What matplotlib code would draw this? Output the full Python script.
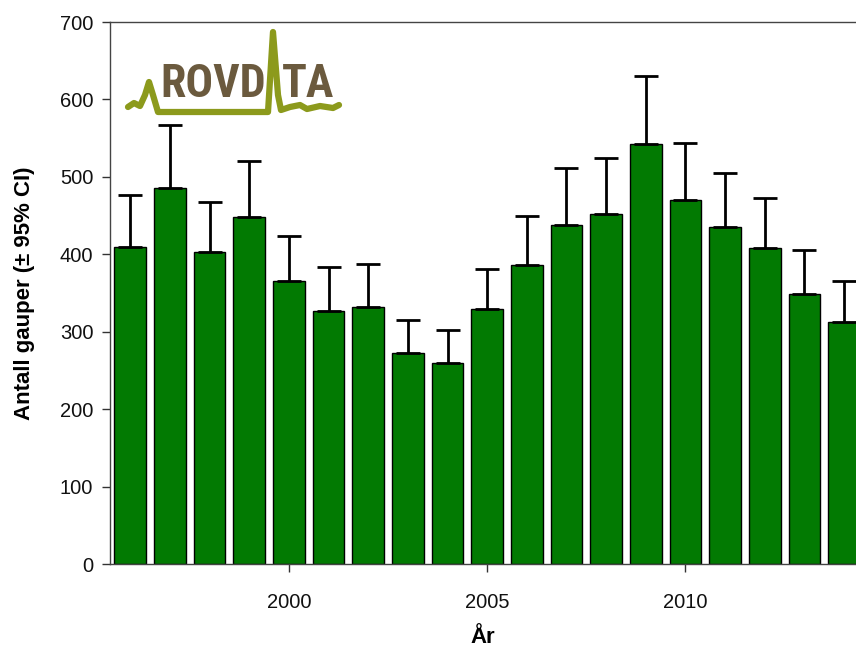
import matplotlib
matplotlib.use('Agg')
import matplotlib.pyplot as plt
from matplotlib.lines import Line2D
import numpy as np

plt.rcParams['font.family'] = ['Liberation Sans', 'DejaVu Sans']

# data
years = [1996, 1997, 1998, 1999, 2000, 2001, 2002, 2003, 2004, 2005,
         2006, 2007, 2008, 2009, 2010, 2011, 2012, 2013, 2014]
lynx = [410, 486, 403, 448, 366, 327, 332, 272, 259, 329,
        386, 438, 452, 542, 470, 435, 408, 349, 313]
ci_upper = [477, 567, 468, 520, 424, 383, 387, 315, 302, 381,
            449, 511, 525, 630, 544, 505, 473, 406, 366]
xticks = [2000, 2005, 2010]
yticks = [0, 100, 200, 300, 400, 500, 600, 700]

BAR_GREEN = '#027a02'
BROWN = '#6b5a3e'
OLIVE = '#8c9a1c'
W, H = 856, 649

fig = plt.figure(figsize=(W / 100, H / 100), dpi=100)
fig.patch.set_facecolor('white')
ax = fig.add_axes([110 / W, 1 - 564 / H, 1 - 110 / W, (564 - 22) / H])

err_up = np.array(ci_upper) - np.array(lynx)
ax.bar(years, lynx, width=0.8, color=BAR_GREEN, edgecolor='black', linewidth=1.0,
       yerr=[np.zeros(len(years)), err_up], capsize=8.5,
       error_kw=dict(ecolor='black', elinewidth=2.0, capthick=2.0), zorder=2)

ax.set_xlim(1995.49, 2014.3)
ax.set_ylim(0, 700)
ax.set_xticks(xticks)
ax.set_yticks(yticks)
ax.tick_params(axis='both', direction='out', length=6, width=1, labelsize=14.5,
               colors='#333333', labelcolor='#111111', pad=6)
ax.tick_params(axis='x', pad=15)
for side in ['left', 'bottom', 'top']:
    ax.spines[side].set_color('#444444')
    ax.spines[side].set_linewidth(1)
ax.spines['right'].set_visible(False)

ax.set_ylabel('Antall gauper (± 95% CI)', fontsize=16, fontweight='bold', labelpad=18)
ax.set_xlabel('År', fontsize=16, fontweight='bold', labelpad=11)

# ROVDATA logo
def fx(px):
    return px / W

def fy(py):
    return 1 - py / H

line_px = [(128, 107), (134, 103), (140, 106), (145, 95), (149, 82), (153, 95),
           (158, 112), (268, 112), (273, 32), (278, 95), (281, 110),
           (290, 107), (300, 105), (307, 109), (320, 106), (333, 108), (339, 105)]
fig.add_artist(Line2D([fx(p[0]) for p in line_px], [fy(p[1]) for p in line_px],
                      transform=fig.transFigure, color=OLIVE, lw=4.5,
                      solid_capstyle='round', solid_joinstyle='round', zorder=5))
logo_font = ['Roboto Condensed', 'Liberation Sans Narrow', 'DejaVu Sans Condensed',
             'Open Sans Condensed', 'Liberation Sans']
fig.text(fx(266), fy(84), 'ROVD', family=logo_font, fontweight='bold', fontsize=33,
         fontstretch='condensed', color=BROWN, ha='right', va='center', zorder=6)
fig.text(fx(282), fy(84), 'TA', family=logo_font, fontweight='bold', fontsize=33,
         fontstretch='condensed', color=BROWN, ha='left', va='center', zorder=6)

fig.savefig('out.png', dpi=100, facecolor='white')
